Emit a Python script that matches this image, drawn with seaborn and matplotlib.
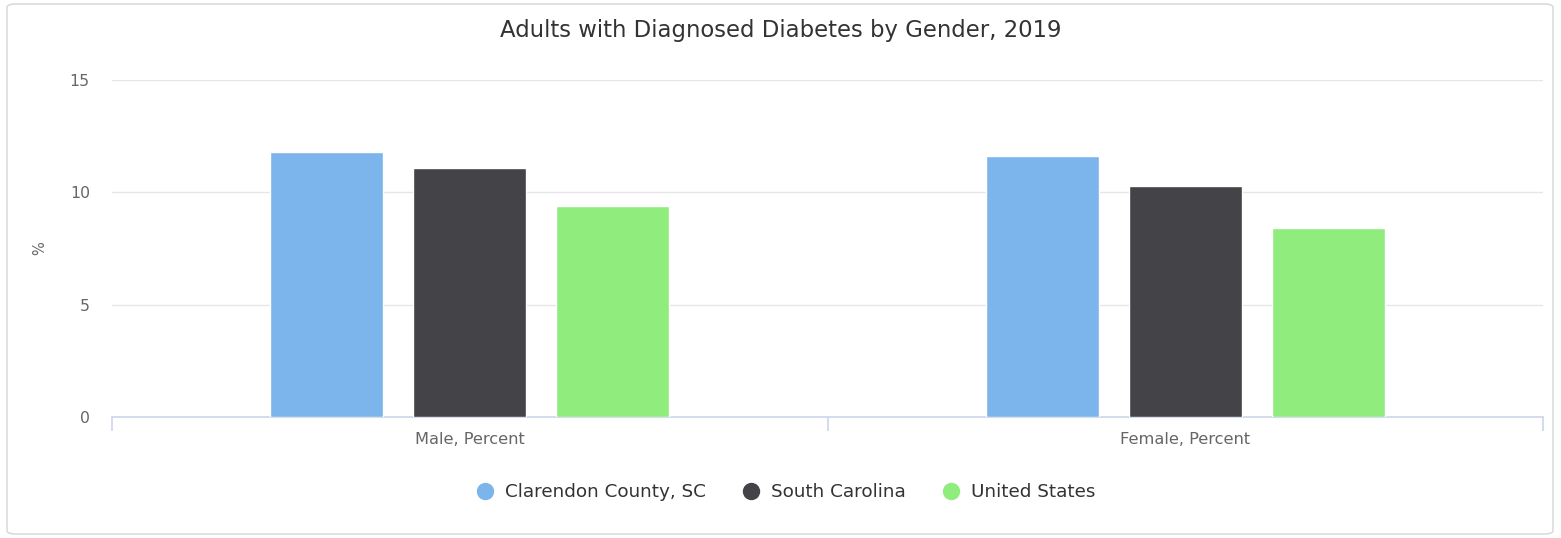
import matplotlib
matplotlib.use("Agg")
import matplotlib.pyplot as plt
from matplotlib.patches import FancyBboxPatch
from matplotlib.lines import Line2D
import seaborn as sns
import pandas as pd

# Adults with diagnosed diabetes, 2019 (%)
categories = ["Male, Percent", "Female, Percent"]
regions = ["Clarendon County, SC", "South Carolina", "United States"]
clarendon = [11.8, 11.6]
south_carolina = [11.1, 10.3]
united_states = [9.4, 8.4]
y_ticks = [0, 5, 10, 15]

colors = ["#7cb5ec", "#434348", "#90ed7d"]

rows = []
for region, values in zip(regions, [clarendon, south_carolina, united_states]):
    for cat, v in zip(categories, values):
        rows.append({"category": cat, "region": region, "value": v})
df = pd.DataFrame(rows)

sns.set_theme(style="white")
plt.rcParams["font.family"] = ["DejaVu Sans"]

fig = plt.figure(figsize=(15.61, 5.38), dpi=100)
ax = fig.add_axes([112 / 1561, 1 - 417 / 538, (1543 - 112) / 1561, (417 - 80) / 538])

# rounded outer frame
frame = FancyBboxPatch((7 / 1561, 4 / 538), 1546 / 1561, 530 / 538,
                       boxstyle="round,pad=0,rounding_size=0.006",
                       transform=fig.transFigure, facecolor="none",
                       edgecolor="#dcdcdc", linewidth=1.2, zorder=0)
fig.patches.append(frame)

sns.barplot(data=df, x="category", y="value", hue="region", order=categories,
            hue_order=regions, palette=colors, width=0.6, gap=0.21,
            saturation=1, ax=ax, legend=False, zorder=3)

ax.set_xlim(-0.5, 1.5)
ax.set_ylim(0, 15)
ax.set_yticks(y_ticks)
ax.set_yticklabels([str(t) for t in y_ticks])
ax.grid(axis="y", color="#e6e6e6", linewidth=1, zorder=0)
ax.grid(axis="x", visible=False)
for side in ["top", "right", "left"]:
    ax.spines[side].set_visible(False)
ax.spines["bottom"].set_color("#ccd6eb")
ax.spines["bottom"].set_linewidth(1.2)

# category separators on the x axis
ax.set_xticks([-0.5, 0.5, 1.5], minor=True)
ax.tick_params(axis="x", which="minor", bottom=True, length=10, color="#ccd6eb",
               width=1.2, direction="out")
ax.tick_params(axis="x", which="major", length=0, pad=11, labelsize=11.7,
               labelcolor="#666666")
ax.tick_params(axis="y", length=0, pad=16, labelsize=11.3, labelcolor="#666666")
ax.set_xlabel("")
ax.set_ylabel("%", fontsize=10.5, color="#666666")
ax.yaxis.set_label_coords(-0.045, 0.5)

fig.text(0.5, 1 - 30 / 538, "Adults with Diagnosed Diabetes by Gender, 2019",
         ha="center", va="center", fontsize=16.4, color="#333333")

handles = [Line2D([0], [0], marker="o", linestyle="", markersize=11.5,
                  markerfacecolor=c, markeredgecolor=c) for c in colors]
fig.legend(handles, regions, loc="center", bbox_to_anchor=(0.5 + 5 / 1561, 1 - 492 / 538),
           ncol=3, frameon=False, fontsize=13.2, handlelength=1.0,
           handletextpad=0.6, columnspacing=1.95, labelcolor="#333333")

fig.savefig("out.png", dpi=100)
